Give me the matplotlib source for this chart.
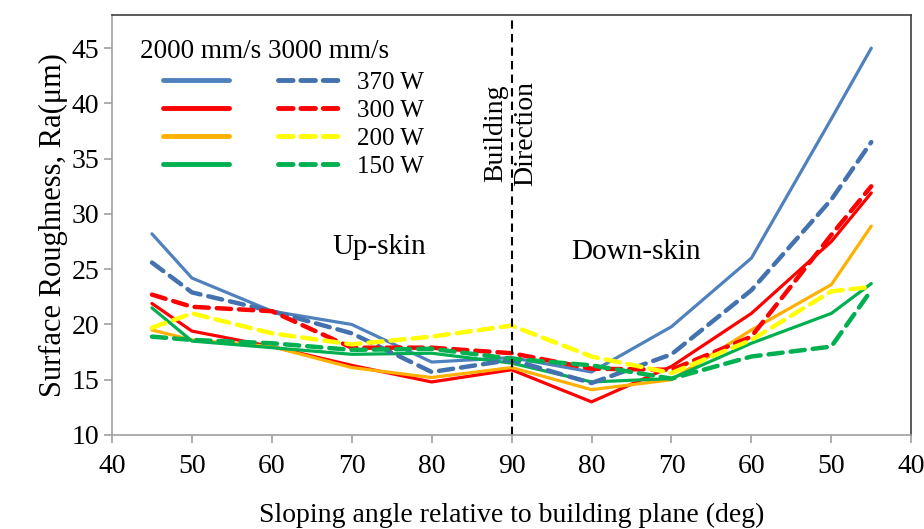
import matplotlib
matplotlib.use("Agg")
import matplotlib.pyplot as plt
from matplotlib.lines import Line2D

plt.rcParams["font.family"] = ["Liberation Serif", "DejaVu Serif"]

# x axis runs 40 -> 90 -> 40 (up-skin then down-skin)
tick_labels = ["40", "50", "60", "70", "80", "90", "80", "70", "60", "50", "40"]
angle_pos = [0.5, 1, 2, 3, 4, 5, 6, 7, 8, 9, 9.5]  # 45,50,60,70,80,90,80,70,60,50,45

powers = ["370 W", "300 W", "200 W", "150 W"]
solid_colors = ["#4F81BD", "#FF0000", "#FFB000", "#00B050"]
dashed_colors = ["#4472AE", "#FF0000", "#FFFF00", "#00B050"]

# 2000 mm/s (solid)
ra_2000 = [
    [28.2, 24.2, 21.2, 20.0, 16.6, 17.0, 15.7, 19.8, 26.0, 38.6, 45.0],
    [21.9, 19.4, 18.0, 16.3, 14.8, 15.9, 13.0, 16.2, 21.0, 27.5, 31.9],
    [19.5, 18.6, 18.0, 16.1, 15.2, 16.1, 14.1, 15.0, 19.5, 23.6, 28.9],
    [21.5, 18.5, 17.9, 17.3, 17.4, 16.5, 14.8, 15.1, 18.3, 21.0, 23.7],
]
# 3000 mm/s (dashed)
ra_3000 = [
    [25.6, 22.9, 21.2, 19.2, 15.7, 16.8, 14.7, 17.3, 23.1, 31.3, 36.5],
    [22.7, 21.6, 21.2, 17.9, 17.9, 17.4, 16.0, 15.9, 18.9, 28.1, 32.5],
    [19.7, 21.0, 19.2, 18.2, 18.9, 19.9, 17.1, 15.6, 18.6, 23.0, 23.4],
    [18.9, 18.6, 18.3, 17.7, 17.8, 16.9, 16.3, 15.1, 17.1, 18.0, 23.1],
]

fig = plt.figure(figsize=(9.24, 5.29), dpi=100)
ax = fig.add_axes([0.1212, 0.1777, 0.865, 0.794])

for vals, c in zip(ra_2000, solid_colors):
    ax.plot(angle_pos, vals, color=c, lw=2.3, solid_capstyle="round")
for vals, c in zip(ra_3000, dashed_colors):
    ax.plot(angle_pos, vals, color=c, lw=3.2, dashes=(3.2, 1.8), dash_capstyle="round")

ax.axvline(5, color="black", lw=1.5, ls=(0, (4, 2.5)))

ax.set_xlim(0, 10)
ax.set_ylim(10, 48)
ax.set_xticks(range(11))
ax.set_xticklabels(tick_labels)
ax.set_yticks(range(10, 50, 5))
ax.tick_params(axis="both", labelsize=20, color="#A0A0A0", length=6, width=1.2)
ax.tick_params(axis="x", pad=8)
ax.tick_params(axis="y", pad=3)

for side in ("left", "bottom"):
    ax.spines[side].set_color("#A0A0A0")
    ax.spines[side].set_linewidth(1.2)
for side in ("top", "right"):
    ax.spines[side].set_color("#404040")
    ax.spines[side].set_linewidth(1.2)

ax.set_ylabel("Surface Roughness, Ra(\u03bcm)", fontsize=22, labelpad=3)
ax.set_xlabel("Sloping angle relative to building plane (deg)", fontsize=20, labelpad=17)

ax.text(3.34, 27.0, "Up-skin", fontsize=21, ha="center", va="center")
ax.text(6.55, 26.6, "Down-skin", fontsize=21, ha="center", va="center")
ax.text(4.99, 37.3, "Building\nDirection", fontsize=20, rotation=90,
        ha="center", va="center", multialignment="center", linespacing=1.3)

ax.text(0.035, 0.914, "2000 mm/s 3000 mm/s", fontsize=19.5, transform=ax.transAxes,
        ha="left", va="center")
handles = [Line2D([], [], color=c, lw=3.5, solid_capstyle="round") for c in solid_colors]
handles += [Line2D([], [], color=c, lw=3.5, dashes=(3.0, 1.6), dash_capstyle="round")
            for c in dashed_colors]
labels = [""] * 4 + powers
ax.legend(handles, labels, ncol=2, loc="upper left", bbox_to_anchor=(0.064, 0.866),
          frameon=False, fontsize=18, handlelength=2.65, handletextpad=0.5,
          columnspacing=1.45, labelspacing=0.22, borderpad=0, borderaxespad=0)

fig.savefig("out.png", dpi=100)
